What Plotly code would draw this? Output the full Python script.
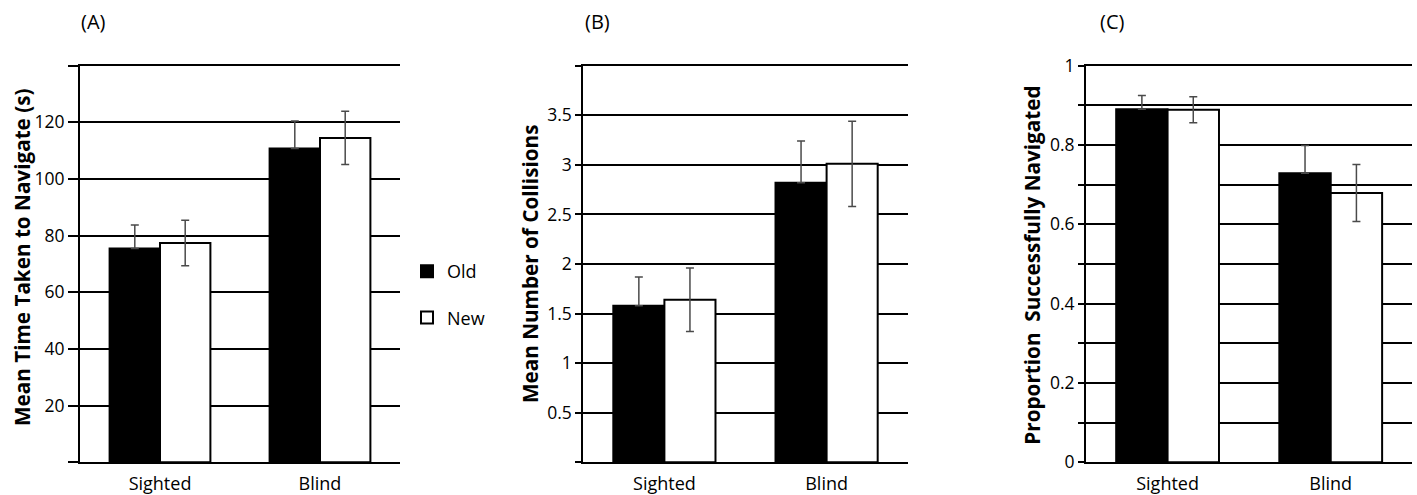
import plotly.graph_objects as go

W, H = 1417, 495

groups = ["Sighted", "Blind"]
series_names = ["Old", "New"]

# Panel A: Mean time taken to navigate (s)
time_old = [75.5, 110.8]
time_old_err = [8.3, 9.7]
time_new = [77.4, 114.5]
time_new_err = [8.0, 9.4]

# Panel B: Mean number of collisions
coll_old = [1.58, 2.82]
coll_old_err = [0.29, 0.42]
coll_new = [1.64, 3.01]
coll_new_err = [0.32, 0.43]

# Panel C: Proportion successfully navigated
prop_old = [0.89, 0.729]
prop_old_err = [0.035, 0.07]
prop_new = [0.889, 0.679]
prop_new_err = [0.033, 0.072]

ticks_a = [0, 20, 40, 60, 80, 100, 120, 140]
ticklabels_a = ["", "20", "40", "60", "80", "100", "120", ""]
ticks_b = [0, 0.5, 1, 1.5, 2, 2.5, 3, 3.5, 4]
ticklabels_b = ["", "0.5", "1", "1.5", "2", "2.5", "3", "3.5", ""]
ticks_c = [0, 0.1, 0.2, 0.3, 0.4, 0.5, 0.6, 0.7, 0.8, 0.9, 1.0]
ticklabels_c = ["0", "", "0.2", "", "0.4", "", "0.6", "", "0.8", "", "1"]

FONT = "Open Sans"
fig = go.Figure()

panels = [
    ("x", "y", time_old, time_old_err, time_new, time_new_err),
    ("x2", "y2", coll_old, coll_old_err, coll_new, coll_new_err),
    ("x3", "y3", prop_old, prop_old_err, prop_new, prop_new_err),
]

for i, (xa, ya, vo, eo, vn, en) in enumerate(panels):
    for name, vals, errs, fill in [("Old", vo, eo, "black"), ("New", vn, en, "white")]:
        # on the black bars the lower half of the error bar is hidden by the bar
        minus = [0 for _ in errs] if fill == "black" else errs
        fig.add_trace(go.Bar(
            x=groups, y=vals, name=name, xaxis=xa, yaxis=ya,
            marker=dict(color=fill, line=dict(color="black", width=2)),
            error_y=dict(type="data", symmetric=False, array=errs, arrayminus=minus,
                         visible=True, color="#4a4a4a", thickness=1.5, width=4),
            showlegend=(i == 0), legendgroup=name,
        ))

def px_x(p):
    return p / W

def px_y(p):
    return 1 - p / H

ydom = [px_y(462.3), px_y(65.7)]
xdoms = [[px_x(80), px_x(400)], [px_x(583.3), px_x(907.7)], [px_x(1086), px_x(1412.3)]]
yranges = [[0, 140], [0, 4], [0, 1]]
tickv = [ticks_a, ticks_b, ticks_c]
tickt = [ticklabels_a, ticklabels_b, ticklabels_c]
ticklens = [10, 6, 6]

layout = dict(
    width=W, height=H,
    margin=dict(l=0, r=0, t=0, b=0, autoexpand=False),
    plot_bgcolor="white", paper_bgcolor="white",
    barmode="group", bargap=0.37, bargroupgap=0,
    font=dict(family=FONT, color="black", size=18),
    legend=dict(x=px_x(407), y=px_y(253), xanchor="left", yanchor="top",
                font=dict(size=18, family=FONT), tracegroupgap=20,
                bgcolor="rgba(0,0,0,0)", traceorder="grouped"),
)
for k in range(3):
    sfx = "" if k == 0 else str(k + 1)
    layout["xaxis" + sfx] = dict(
        domain=xdoms[k], anchor="y" + sfx, showline=True, mirror=True,
        linecolor="black", linewidth=2, ticks="", showgrid=False, zeroline=False,
        tickfont=dict(size=18, family=FONT), fixedrange=True, automargin=False,
        ticklabelstandoff=4,
    )
    layout["yaxis" + sfx] = dict(
        domain=ydom, anchor="x" + sfx, range=yranges[k],
        tickmode="array", tickvals=tickv[k], ticktext=tickt[k],
        showgrid=True, gridcolor="black", gridwidth=2,
        showline=True, linecolor="black", linewidth=2,
        ticks="outside", ticklen=ticklens[k], tickwidth=2, tickcolor="black",
        zeroline=False, tickfont=dict(size=17.5, family=FONT),
        fixedrange=True, automargin=False,
    )
fig.update_layout(**layout)

annos = [
    ("(A)", 93, 22, None), ("(B)", 597, 22, None), ("(C)", 1112, 22, None),
    ("Mean Time Taken to Navigate (s)", 22, 257, -90),
    ("Mean Number of Collisions", 530, 264, -90),
    ("Proportion  Successfully Navigated", 1031.7, 265, -90),
]
for text, x, y, ang in annos:
    bold = ang is not None
    fig.add_annotation(
        text=text, x=px_x(x), y=px_y(y), xref="paper", yref="paper",
        showarrow=False, xanchor="center", yanchor="middle",
        textangle=ang if ang is not None else 0,
        font=dict(size=20.7 if bold else 20, family=FONT,
                  weight="bold" if bold else "normal", color="black"),
    )

page_js = """
document.body.style.margin='0';
document.body.style.overflow='hidden';
"""

fig.write_html("out.html", post_script=page_js, config={"displayModeBar": False})
